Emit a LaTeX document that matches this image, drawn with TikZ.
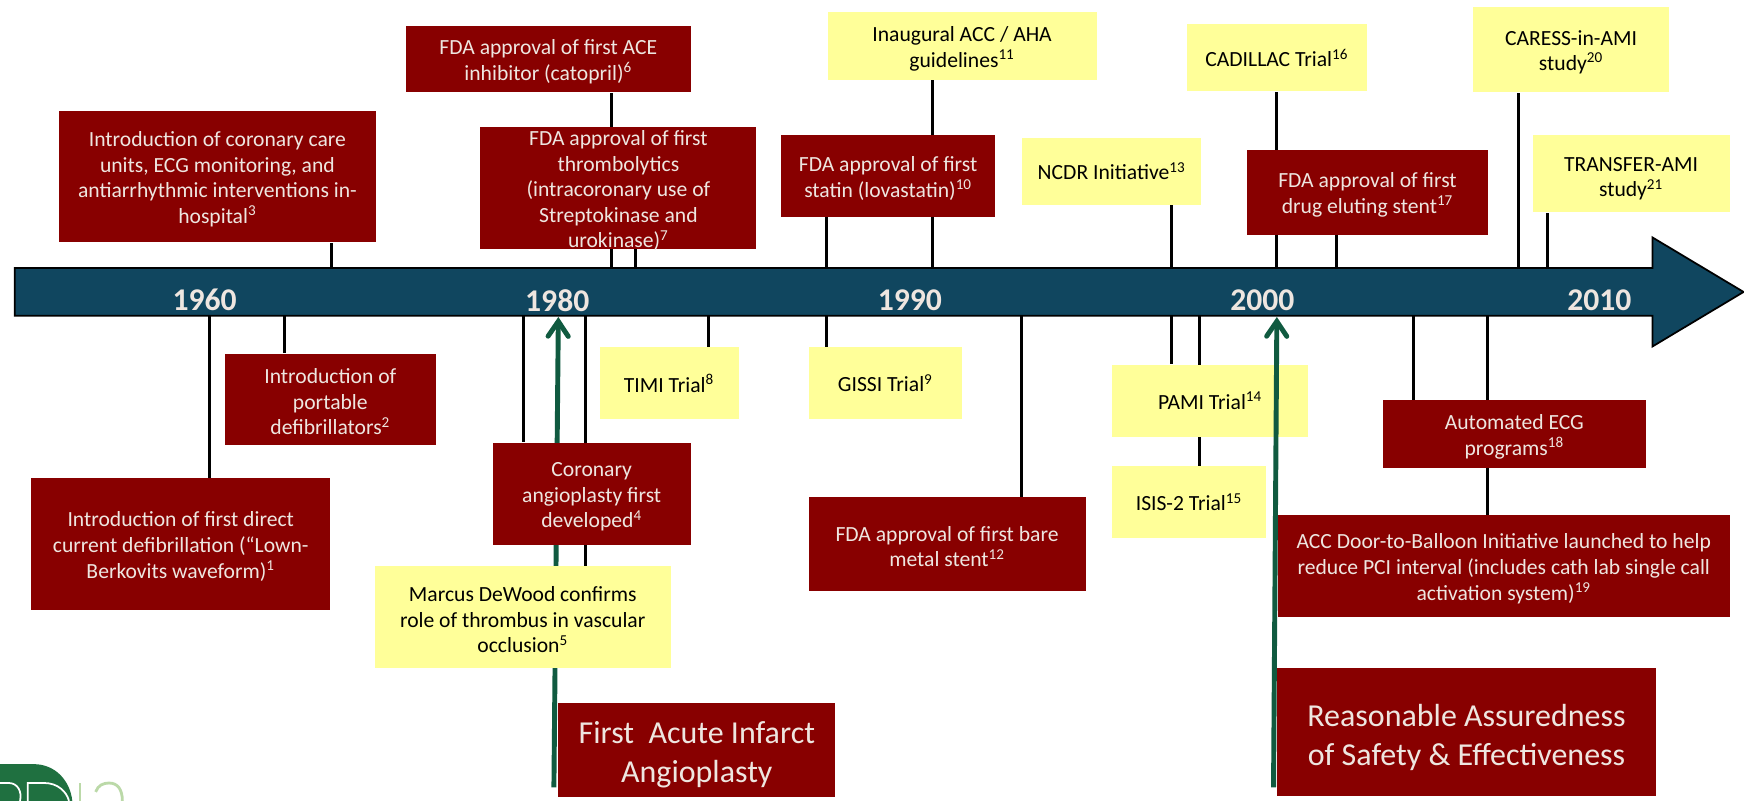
\documentclass[tikz,border=0pt]{standalone}
\usepackage{fontspec}
\setmainfont{Carlito}
\usepackage{tikz}
\usetikzlibrary{shapes.arrows,arrows.meta,backgrounds}

\definecolor{barblue}{HTML}{10465F}
\definecolor{darkred}{HTML}{880000}
\definecolor{paleyellow}{HTML}{FFFF99}
\definecolor{paletext}{HTML}{EEE6E0}
\definecolor{arrowgreen}{HTML}{105A40}
\definecolor{logogreen}{HTML}{1F7040}
\definecolor{logopale}{HTML}{BBD9A8}

\newcommand{\lowertext}[1][11.5pt]{\rule{0pt}{#1}}

\tikzset{
  boxsize/.style 2 args={minimum width=#1*0.02224cm, minimum height=#2*0.02224cm},
  redbox/.style={fill=darkred, text=paletext, align=center, inner sep=0pt, font=\fontsize{12.3}{14.55}\selectfont},
  yellowbox/.style={fill=paleyellow, text=black, align=center, inner sep=0pt, font=\fontsize{12.3}{14.55}\selectfont},
  bigbox/.style={redbox, font=\fontsize{18.2}{22.1}\selectfont},
  year/.style={text=paletext, inner sep=0pt, font=\fontsize{18}{20}\selectfont\bfseries},
  stem/.style={black, line width=1.7pt},
  mark arrow/.style={arrowgreen, line width=2.8pt, -{Straight Barb[length=8.5pt,width=11.5pt,line cap=round,line width=2.8pt]}}
}

\begin{document}
\begin{tikzpicture}[x=0.02224cm, y=-0.02224cm]
            \useasboundingbox (0,0) rectangle (1568,720);

            % timeline
            \node[single arrow, draw=black, line width=1pt, fill=barblue, inner xsep=0pt, inner ysep=0.46cm, outer sep=0pt,
                  minimum height=34.58cm, minimum width=2.18cm,
                  single arrow head extend=0.612cm, single arrow tip angle=61.8,
                  single arrow head indent=0pt] (timeline) at (772.5,262.5) {};
            \node[year] (y1960) at (184,270) {1960};
            \node[year] (y1980) at (501,270) {1980};
            \node[year] (y1990) at (818,270) {1990};
            \node[year] (y2000) at (1135,270) {2000};
            \node[year] (y2010) at (1438,270) {2010};

            % above the bar
            \node[redbox, boxsize={285}{118}] (coronary) at (195.5,159) {\lowertext Introduction of coronary care\\units, ECG monitoring, and\\antiarrhythmic interventions in-\\hospital\textsuperscript{3}};
            \node[redbox, boxsize={256}{60}] (ace) at (493,53) {\lowertext FDA approval of first ACE\\inhibitor (catopril)\textsuperscript{6}};
            \node[redbox, boxsize={248}{110}, inner ysep=-2pt] (lytics) at (556,169) {\lowertext FDA approval of first\\thrombolytics\\(intracoronary use of\\Streptokinase and\\urokinase)\textsuperscript{7}};
            \node[redbox, boxsize={193}{74}] (statin) at (798.5,158) {\lowertext FDA approval of first\\statin (lovastatin)\textsuperscript{10}};
            \node[yellowbox, boxsize={242}{61}] (guide) at (865,41.5) {\lowertext Inaugural ACC / AHA\\guidelines\textsuperscript{11}};
            \node[yellowbox, boxsize={161}{60}] (ncdr) at (999.5,154) {NCDR Initiative\textsuperscript{13}};
            \node[yellowbox, boxsize={162}{60}] (cadillac) at (1148,52) {CADILLAC Trial\textsuperscript{16}};
            \node[redbox, boxsize={217}{76}] (eluting) at (1229.5,173) {\lowertext FDA approval of first\\drug eluting stent\textsuperscript{17}};
            \node[yellowbox, boxsize={177}{77}] (caress) at (1412.5,44.5) {\lowertext CARESS-in-AMI\\study\textsuperscript{20}};
            \node[yellowbox, boxsize={177}{70}] (transfer) at (1466.5,156) {\lowertext[14pt]TRANSFER-AMI\\study\textsuperscript{21}};

            % below the bar
            \node[redbox, boxsize={190}{82}] (portable) at (297,359) {\lowertext Introduction of\\portable\\defibrillators\textsuperscript{2}};
            \node[redbox, boxsize={269}{118}] (direct) at (162.5,489) {\lowertext Introduction of first direct\\current defibrillation (“Lown-\\Berkovits waveform)\textsuperscript{1}};
            \node[redbox, boxsize={178}{92}] (angio) at (532,444) {\lowertext Coronary\\angioplasty first\\developed\textsuperscript{4}};
            \node[yellowbox, boxsize={266}{92}] (dewood) at (470,555) {\lowertext Marcus DeWood confirms\\role of thrombus in vascular\\occlusion\textsuperscript{5}};
            \node[yellowbox, boxsize={125}{65}] (timi) at (601.5,344.5) {TIMI Trial\textsuperscript{8}};
            \node[yellowbox, boxsize={138}{65}] (gissi) at (796,344.5) {GISSI Trial\textsuperscript{9}};
            \node[redbox, boxsize={249}{84}] (bare) at (851.5,489) {\lowertext FDA approval of first bare\\metal stent\textsuperscript{12}};
            \node[yellowbox, boxsize={176}{65}] (pami) at (1088,360.5) {PAMI Trial\textsuperscript{14}};
            \node[yellowbox, boxsize={138}{65}] (isis) at (1069,451.5) {ISIS-2 Trial\textsuperscript{15}};
            \node[redbox, boxsize={237}{61}] (ecg) at (1361.5,390.5) {\lowertext Automated ECG\\programs\textsuperscript{18}};
            \node[redbox, boxsize={406}{92}] (door) at (1352,509) {\lowertext ACC Door-to-Balloon Initiative launched to help\\reduce PCI interval (includes cath lab single call\\activation system)\textsuperscript{19}};
            \node[bigbox, boxsize={341}{115}] (safety) at (1318.5,658.5) {\lowertext[18pt]Reasonable Assuredness\\of Safety \& Effectiveness};
            \node[bigbox, boxsize={249}{85}] (infarct) at (626.5,674.5) {\lowertext[18pt]First\ \ Acute Infarct\\Angioplasty};

            % points on the bar
            \foreach \n/\x in {coronary/298, ace/550, lytics/571, statin/743, guide/838, ncdr/1053,
                               cadillac/1148, eluting/1202, caress/1365, transfer/1391}
                \coordinate (top\n) at (\x,241);
            \foreach \n/\x in {direct/188, portable/256, angio/471, dewood/526, timi/637, gissi/743,
                               bare/918, pami/1053, isis/1078, ecg/1271, door/1337}
                \coordinate (low\n) at (\x,284);
            \coordinate (mark1980) at (502,285);
            \coordinate (mark2000) at (1148,285);
            \coordinate (start1980) at (498,708);
            \coordinate (start2000) at (1145,708);

            \begin{scope}[on background layer]
                \foreach \n in {coronary, ace, lytics, statin, guide, ncdr, cadillac, eluting, caress, transfer}
                    \draw[stem] (top\n) -- (top\n |- \n.south);
                \foreach \n in {direct, portable, angio, dewood, timi, gissi, bare, pami, isis, ecg, door}
                    \draw[stem] (low\n) -- (low\n |- \n.north);
                \draw[mark arrow] (start1980) -- (mark1980);
            \end{scope}
            \draw[mark arrow] (start2000) -- (mark2000);

            % logo in the corner
            \fill[logogreen] (0,720) -- (0,687) -- (30,687) .. controls (50,687) and (63,702) .. (65,720) -- cycle;
            \draw[white, line width=1pt] (25,720) -- (25,704) -- (40,704) .. controls (52,704) and (60,712) .. (62,720);
            \draw[white, line width=1pt] (0,704) -- (8,704) .. controls (16,704) and (20,712) .. (18,720);
            \draw[logopale, line width=1.6pt] (72,720) -- (72,704);
            \draw[logopale, line width=1.6pt] (86,712) .. controls (88,706) and (93,704) .. (98,704) .. controls (106,704) and (110,710) .. (110,720);
        \end{tikzpicture}
\end{document}
